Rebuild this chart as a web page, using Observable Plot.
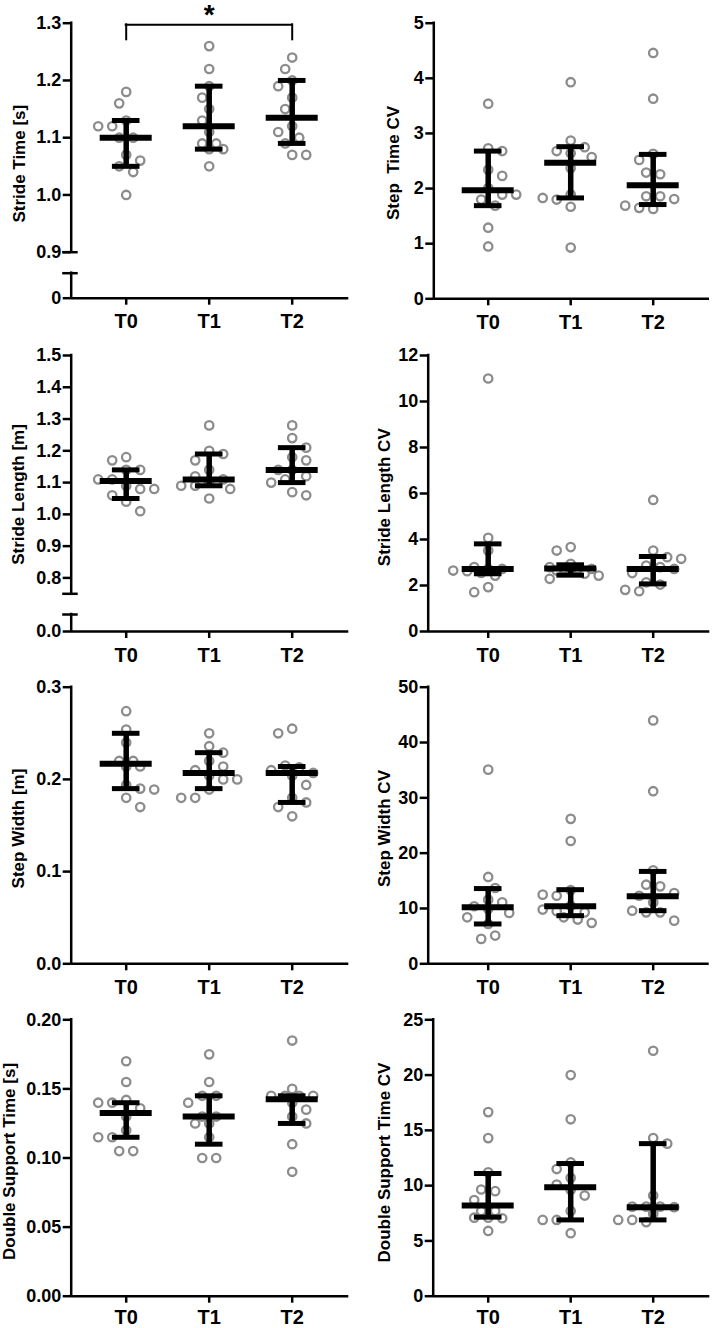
<!DOCTYPE html>
<html><head><meta charset="utf-8">
<script src="https://cdn.jsdelivr.net/npm/d3@7"></script>
<script src="https://cdn.jsdelivr.net/npm/@observablehq/plot@0.6"></script>
<style>
html,body{margin:0;padding:0;background:#fff;}
#wrap{position:relative;width:712px;height:1328px;overflow:hidden;background:#fff;}
#wrap svg{position:absolute;overflow:visible;}
#wrap svg text{font-weight:700;white-space:pre;}
</style></head><body><div id="wrap"></div>
<script>
const groups = ["T0", "T1", "T2"];

// Stride Time [s]
const strideTime = [
  [1.00, 1.04, 1.05, 1.06, 1.07, 1.10, 1.10, 1.12, 1.12, 1.13, 1.16, 1.18],
  [1.05, 1.08, 1.08, 1.09, 1.09, 1.11, 1.13, 1.15, 1.17, 1.19, 1.22, 1.26],
  [1.07, 1.07, 1.09, 1.10, 1.11, 1.12, 1.15, 1.17, 1.19, 1.20, 1.22, 1.24]
];
const strideTimeMedian = [1.10, 1.12, 1.135];
const strideTimeQ1 = [1.05, 1.08, 1.09];
const strideTimeQ3 = [1.13, 1.19, 1.20];
const strideTimeTicks = [0, 0.9, 1.0, 1.1, 1.2, 1.3];
const strideTimeTickLabels = ["0", "0.9", "1.0", "1.1", "1.2", "1.3"];

// Step Time CV
const stepTimeCV = [
  [0.95, 1.29, 1.69, 1.80, 1.89, 1.89, 2.01, 2.23, 2.34, 2.68, 2.73, 3.54],
  [0.93, 1.67, 1.80, 1.83, 1.89, 2.37, 2.57, 2.64, 2.68, 2.75, 2.87, 3.93],
  [1.63, 1.65, 1.69, 1.81, 1.86, 1.86, 2.26, 2.29, 2.52, 2.63, 3.63, 4.46]
];
const stepTimeCVMedian = [1.97, 2.47, 2.06];
const stepTimeCVQ1 = [1.69, 1.83, 1.71];
const stepTimeCVQ3 = [2.68, 2.76, 2.62];
const stepTimeCVTicks = [0, 1, 2, 3, 4, 5];
const stepTimeCVTickLabels = ["0", "1", "2", "3", "4", "5"];

// Stride Length [m]
const strideLength = [
  [1.01, 1.04, 1.06, 1.08, 1.08, 1.09, 1.11, 1.11, 1.14, 1.14, 1.17, 1.18],
  [1.05, 1.08, 1.09, 1.09, 1.10, 1.11, 1.12, 1.14, 1.17, 1.19, 1.20, 1.28],
  [1.06, 1.07, 1.10, 1.11, 1.12, 1.14, 1.14, 1.17, 1.18, 1.21, 1.24, 1.28]
];
const strideLengthMedian = [1.105, 1.11, 1.14];
const strideLengthQ1 = [1.05, 1.09, 1.10];
const strideLengthQ3 = [1.14, 1.19, 1.21];
const strideLengthTicks = [0, 0.8, 0.9, 1.0, 1.1, 1.2, 1.3, 1.4, 1.5];
const strideLengthTickLabels = ["0.0", "0.8", "0.9", "1.0", "1.1", "1.2", "1.3", "1.4", "1.5"];

// Stride Length CV
const strideLengthCV = [
  [1.71, 1.93, 2.43, 2.55, 2.62, 2.65, 2.72, 2.72, 2.80, 3.52, 4.07, 11.0],
  [2.29, 2.43, 2.51, 2.62, 2.65, 2.72, 2.72, 2.72, 2.80, 2.94, 3.52, 3.67],
  [1.75, 1.81, 2.04, 2.14, 2.54, 2.72, 2.80, 2.87, 3.16, 3.23, 3.52, 5.72]
];
const strideLengthCVMedian = [2.72, 2.74, 2.72];
const strideLengthCVQ1 = [2.51, 2.45, 2.07];
const strideLengthCVQ3 = [3.81, 2.90, 3.26];
const strideLengthCVTicks = [0, 2, 4, 6, 8, 10, 12];
const strideLengthCVTickLabels = ["0", "2", "4", "6", "8", "10", "12"];

// Step Width [m]
const stepWidth = [
  [0.170, 0.180, 0.189, 0.190, 0.194, 0.214, 0.214, 0.220, 0.220, 0.240, 0.254, 0.274],
  [0.180, 0.180, 0.189, 0.200, 0.200, 0.204, 0.210, 0.214, 0.220, 0.229, 0.236, 0.250],
  [0.160, 0.170, 0.175, 0.180, 0.194, 0.204, 0.207, 0.210, 0.213, 0.215, 0.250, 0.255]
];
const stepWidthMedian = [0.217, 0.207, 0.207];
const stepWidthQ1 = [0.190, 0.190, 0.175];
const stepWidthQ3 = [0.250, 0.229, 0.214];
const stepWidthTicks = [0, 0.1, 0.2, 0.3];
const stepWidthTickLabels = ["0.0", "0.1", "0.2", "0.3"];

// Step Width CV
const stepWidthCV = [
  [4.5, 5.1, 7.2, 8.4, 9.2, 9.9, 10.4, 11.1, 11.6, 13.7, 15.7, 35.1],
  [7.4, 8.0, 8.4, 9.3, 9.5, 9.8, 10.5, 12.3, 12.5, 13.3, 22.2, 26.2],
  [7.8, 9.3, 9.3, 9.6, 11.1, 12.3, 12.8, 14.0, 14.3, 16.9, 31.2, 44.0]
];
const stepWidthCVMedian = [10.2, 10.4, 12.2];
const stepWidthCVQ1 = [7.2, 8.7, 9.6];
const stepWidthCVQ3 = [13.6, 13.4, 16.7];
const stepWidthCVTicks = [0, 10, 20, 30, 40, 50];
const stepWidthCVTickLabels = ["0", "10", "20", "30", "40", "50"];

// Double Support Time [s]
const doubleSupport = [
  [0.105, 0.105, 0.115, 0.115, 0.120, 0.130, 0.136, 0.140, 0.140, 0.142, 0.155, 0.170],
  [0.100, 0.100, 0.115, 0.125, 0.125, 0.130, 0.130, 0.140, 0.145, 0.145, 0.155, 0.175],
  [0.090, 0.110, 0.125, 0.130, 0.135, 0.140, 0.145, 0.145, 0.145, 0.145, 0.150, 0.185]
];
const doubleSupportMedian = [0.1325, 0.130, 0.1425];
const doubleSupportQ1 = [0.115, 0.110, 0.125];
const doubleSupportQ3 = [0.140, 0.145, 0.145];
const doubleSupportTicks = [0, 0.05, 0.10, 0.15, 0.20];
const doubleSupportTickLabels = ["0.00", "0.05", "0.10", "0.15", "0.20"];

// Double Support Time CV
const doubleSupportCV = [
  [5.9, 7.05, 7.1, 7.1, 7.7, 7.7, 8.7, 9.5, 9.65, 11.2, 14.3, 16.65],
  [5.7, 6.9, 6.9, 7.7, 9.1, 9.6, 10.1, 10.7, 11.5, 12.1, 16.0, 20.0],
  [6.7, 6.9, 6.9, 7.45, 8.05, 8.1, 8.1, 8.1, 9.1, 13.8, 14.3, 22.2]
];
const doubleSupportCVMedian = [8.2, 9.86, 8.05];
const doubleSupportCVQ1 = [7.15, 6.9, 6.9];
const doubleSupportCVQ3 = [11.1, 12.0, 13.8];
const doubleSupportCVTicks = [0, 5, 10, 15, 20, 25];
const doubleSupportCVTickLabels = ["0", "5", "10", "15", "20", "25"];

// Significance bracket (T0 vs T2, stride time)
const strideTimeSignif = {from: 0, to: 2, label: "*"};

// ---- layout (pixels) ----
const panels = [
  {title: "Stride Time [s]", values: strideTime, median: strideTimeMedian, q1: strideTimeQ1, q3: strideTimeQ3,
   ticks: strideTimeTicks, tickLabels: strideTimeTickLabels,
   left: 0, top: 0, axisX: 70.7, endX: 348.3, c0: 125.7, c2: 291.7,
   yDomain: [0, 0.1, 0.9, 1.3], yRange: [297.7, 272.7, 251.7, 22.7], breakAt: [0.1, 0.9],
   titleDx: -52, titleDy: 3, signif: strideTimeSignif, bracketY: 1.2972, bracketEnd: 1.271, starY: 1.3135},
  {title: "Step  Time CV", values: stepTimeCV, median: stepTimeCVMedian, q1: stepTimeCVQ1, q3: stepTimeCVQ3,
   ticks: stepTimeCVTicks, tickLabels: stepTimeCVTickLabels,
   left: 356, top: 0, axisX: 433.3, endX: 709, c0: 487.7, c2: 652.7,
   yDomain: [0, 5], yRange: [298.3, 22.7], titleDx: -40.3, titleDy: 2},
  {title: "Stride Length [m]", values: strideLength, median: strideLengthMedian, q1: strideLengthQ1, q3: strideLengthQ3,
   ticks: strideLengthTicks, tickLabels: strideLengthTickLabels,
   left: 0, top: 332, axisX: 70.7, endX: 348.3, c0: 125.7, c2: 291.7,
   yDomain: [0, 0.1, 0.75, 1.5], yRange: [631, 614, 593.3, 355], breakAt: [0.1, 0.75],
   titleDx: -52.7, titleDy: 1},
  {title: "Stride Length CV", values: strideLengthCV, median: strideLengthCVMedian, q1: strideLengthCVQ1, q3: strideLengthCVQ3,
   ticks: strideLengthCVTicks, tickLabels: strideLengthCVTickLabels,
   left: 356, top: 332, axisX: 427.7, endX: 709.3, c0: 487.7, c2: 652.7,
   yDomain: [0, 12], yRange: [631, 355], titleDx: -43.7, titleDy: 3.7},
  {title: "Step Width [m]", values: stepWidth, median: stepWidthMedian, q1: stepWidthQ1, q3: stepWidthQ3,
   ticks: stepWidthTicks, tickLabels: stepWidthTickLabels,
   left: 0, top: 664, axisX: 70.7, endX: 348.3, c0: 125.7, c2: 291.7,
   yDomain: [0, 0.3], yRange: [963.3, 686.7], titleDx: -52.7, titleDy: 3},
  {title: "Step Width CV", values: stepWidthCV, median: stepWidthCVMedian, q1: stepWidthCVQ1, q3: stepWidthCVQ3,
   ticks: stepWidthCVTicks, tickLabels: stepWidthCVTickLabels,
   left: 356, top: 664, axisX: 427.7, endX: 708.7, c0: 487.7, c2: 652.7,
   yDomain: [0, 50], yRange: [963.3, 686.7], titleDx: -43.7, titleDy: 3},
  {title: "Double Support Time [s]", values: doubleSupport, median: doubleSupportMedian, q1: doubleSupportQ1, q3: doubleSupportQ3,
   ticks: doubleSupportTicks, tickLabels: doubleSupportTickLabels,
   left: 0, top: 996, axisX: 70.7, endX: 348.3, c0: 125.7, c2: 291.7,
   yDomain: [0, 0.2], yRange: [1295.7, 1019.3], titleDx: -61.4, titleDy: 3.5, labelPad: 6.5},
  {title: "Double Support Time CV", values: doubleSupportCV, median: doubleSupportCVMedian, q1: doubleSupportCVQ1, q3: doubleSupportCVQ3,
   ticks: doubleSupportCVTicks, tickLabels: doubleSupportCVTickLabels,
   left: 356, top: 996, axisX: 432.7, endX: 709.3, c0: 487.7, c2: 652.7,
   yDomain: [0, 25], yRange: [1295.7, 1019.3], titleDx: -48.7, titleDy: 4.5, labelPad: 6.5}
];

const W = 356, H = 332;
const DOT = "#8c8c8c";

// Scatter-dot layout: equal values side by side in a centred row; a row that collides
// with rows already placed is nudged sideways by half or one column.
function scatterOffsets(vals, ys) {
  const colW = 14, minD = 12;
  const sorted = vals.map(v => ({v, py: ys(v)})).sort((a, b) => a.py - b.py);
  const rows = [];
  for (const d of sorted) {
    const r = rows[rows.length - 1];
    if (r && Math.abs(d.py - r[0].py) < 2.5) r.push(d); else rows.push([d]);
  }
  const placed = [], out = [];
  rows.forEach((r, ri) => {
    const k = r.length;
    const base = r.map((d, j) => (j - (k - 1) / 2) * colW);
    const sgn = ri % 2 ? -1 : 1;
    const shifts = [0, sgn * colW / 2, -sgn * colW / 2, sgn * colW, -sgn * colW, sgn * 1.5 * colW, -sgn * 1.5 * colW];
    let best = 0, bestD = -1;
    for (const s of shifts) {
      let md = Infinity;
      r.forEach((d, j) => placed.forEach(q => { md = Math.min(md, Math.hypot(base[j] + s - q.ox, d.py - q.py)); }));
      if (md >= minD) { best = s; bestD = md; break; }
      if (md > bestD + 0.5) { bestD = md; best = s; }
    }
    r.forEach((d, j) => { const o = base[j] + best; placed.push({ox: o, py: d.py}); out.push([d.v, o]); });
  });
  return out;
}

const wrap = document.getElementById("wrap");

for (const p of panels) {
  const step = (p.c2 - p.c0) / 2;
  const ml = p.axisX - p.left, mr = p.left + W - p.endX;
  const xLo = (p.axisX - p.c0) / step, xHi = 2 + (p.endX - p.c2) / step;
  const yRange = p.yRange.map(v => v - p.top);
  const ys = d3.scaleLinear().domain(p.yDomain).range(yRange);
  const yTop = p.yDomain[p.yDomain.length - 1];
  const labelMap = new Map(p.ticks.map((t, i) => [t, p.tickLabels[i]]));

  const pts = [];
  p.values.forEach((vals, gi) => {
    for (const [v, off] of scatterOffsets(vals, ys)) pts.push({x: gi + off / step, v});
  });
  const summary = groups.map((g, i) => ({i, median: p.median[i], q1: p.q1[i], q3: p.q3[i]}));
  const medH = 26 / step, capH = 13.8 / step;

  const ySegs = p.breakAt ? [[0, p.breakAt[0]], [p.breakAt[1], yTop]] : [[0, yTop]];

  const marks = [
    Plot.dot(pts, {x: "x", y: "v", r: 4.2, fill: "none", stroke: DOT, strokeWidth: 2.3}),
    Plot.ruleX(summary, {x: "i", y1: "q1", y2: "q3", stroke: "#000", strokeWidth: 5.5}),
    Plot.ruleY(summary, {y: "q1", x1: d => d.i - capH, x2: d => d.i + capH, stroke: "#000", strokeWidth: 5}),
    Plot.ruleY(summary, {y: "q3", x1: d => d.i - capH, x2: d => d.i + capH, stroke: "#000", strokeWidth: 5}),
    Plot.ruleY(summary, {y: "median", x1: d => d.i - medH, x2: d => d.i + medH, stroke: "#000", strokeWidth: 6}),
    Plot.ruleY([0], {stroke: "#000", strokeWidth: 2.5}),
    Plot.ruleX(ySegs, {x: () => xLo, y1: d => d[0], y2: d => d[1], stroke: "#000", strokeWidth: 2.5, strokeLinecap: "square"}),
    Plot.axisY({ticks: p.ticks, tickFormat: d => labelMap.get(d), tickSize: 8, tickPadding: 2, fontSize: 18, strokeWidth: 2.5, label: null}),
    Plot.axisX({ticks: [0, 1, 2], tickFormat: i => groups[i], tickSize: 7, tickPadding: p.labelPad ?? 9, fontSize: 20, strokeWidth: 2.5, label: null}),
    Plot.text([p.title], {frameAnchor: "left", textAnchor: "middle", lineAnchor: "middle", rotate: -90, dx: p.titleDx, dy: p.titleDy, fontSize: 17, fontWeight: "bold"})
  ];
  if (p.breakAt) {
    marks.push(Plot.ruleY(p.breakAt, {y: d => d, x1: xLo - 8.5 / step, x2: xLo + 7 / step, stroke: "#000", strokeWidth: 2.5}));
  }
  if (p.signif) {
    const s = p.signif;
    marks.push(Plot.ruleY([s], {y: () => p.bracketY, x1: d => d.from, x2: d => d.to, stroke: "#000", strokeWidth: 2, strokeLinecap: "square"}));
    marks.push(Plot.ruleX([s.from, s.to], {x: d => d, y1: () => p.bracketEnd, y2: () => p.bracketY, stroke: "#000", strokeWidth: 2, strokeLinecap: "square"}));
    marks.push(Plot.text([s], {x: d => (d.from + d.to) / 2, y: () => p.starY, text: d => d.label, fontSize: 28, fontWeight: "bold"}));
  }

  const svg = Plot.plot({
    width: W, height: H,
    marginLeft: ml, marginRight: mr,
    marginTop: yRange[yRange.length - 1], marginBottom: H - yRange[0],
    x: {type: "linear", domain: [xLo, xHi], range: [ml, W - mr]},
    y: {type: "linear", domain: p.yDomain, range: yRange},
    style: {fontFamily: "'Liberation Sans', Arial, sans-serif", background: "transparent", overflow: "visible", color: "#000"},
    marks
  });
  svg.style.left = p.left + "px";
  svg.style.top = p.top + "px";
  wrap.appendChild(svg);
}
</script></body></html>
